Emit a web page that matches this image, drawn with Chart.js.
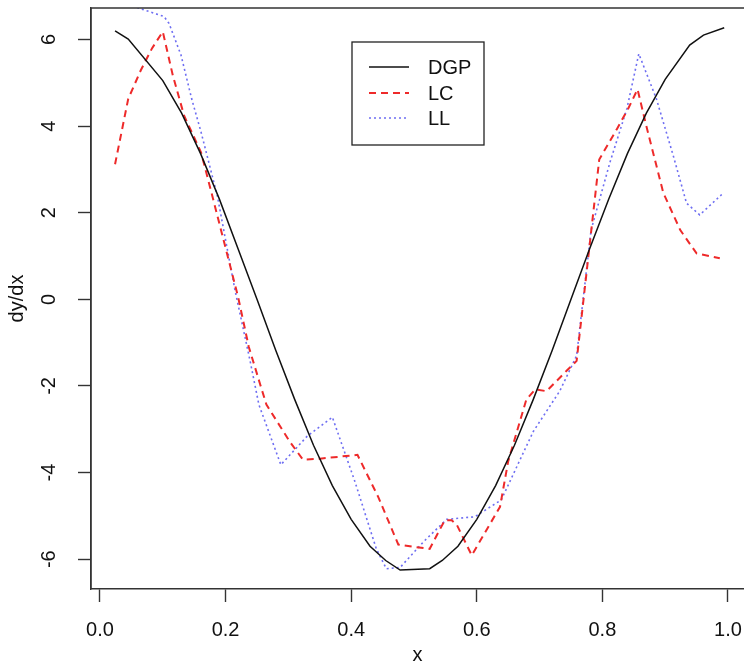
<!DOCTYPE html>
<html>
<head>
<meta charset="utf-8">
<script src="https://cdn.jsdelivr.net/npm/chart.js@4.4.1/dist/chart.umd.min.js"></script>
<style>
html,body{margin:0;padding:0;background:#fff;overflow:hidden;}
canvas{display:block;}
</style>
</head>
<body>
<canvas id="c" width="744" height="666"></canvas>
<script>
// ---- data ----
const seriesNames = ["DGP", "LC", "LL"];

const dgpX = [0.024,0.045,0.100,0.13,0.16,0.19,0.22,0.25,0.28,0.31,0.34,0.37,0.40,0.43,0.455,0.478,0.525,0.545,0.57,0.60,0.63,0.66,0.69,0.72,0.75,0.78,0.81,0.84,0.87,0.90,0.939,0.961,0.994];
const dgpY = [6.20,6.01,5.05,4.30,3.37,2.32,1.16,0.00,-1.18,-2.31,-3.37,-4.30,-5.08,-5.70,-6.03,-6.25,-6.22,-6.03,-5.70,-5.08,-4.30,-3.37,-2.31,-1.18,0.00,1.18,2.31,3.37,4.30,5.08,5.87,6.10,6.27];

const lcX = [0.024,0.045,0.065,0.083,0.100,0.116,0.134,0.161,0.179,0.220,0.237,0.255,0.265,0.302,0.323,0.350,0.410,0.443,0.475,0.503,0.525,0.549,0.560,0.568,0.592,0.637,0.650,0.679,0.693,0.711,0.743,0.759,0.795,0.823,0.841,0.856,0.870,0.897,0.924,0.950,0.987];
const lcY = [3.12,4.63,5.29,5.80,6.18,5.17,4.24,3.39,2.38,0.05,-1.10,-1.96,-2.43,-3.28,-3.70,-3.68,-3.59,-4.56,-5.66,-5.72,-5.76,-5.10,-5.10,-5.20,-5.91,-4.79,-3.74,-2.31,-2.08,-2.12,-1.65,-1.42,3.23,3.93,4.40,4.85,4.00,2.46,1.60,1.06,0.95];

const llX = [0.024,0.044,0.102,0.110,0.129,0.146,0.161,0.187,0.215,0.239,0.253,0.288,0.330,0.370,0.406,0.440,0.456,0.478,0.515,0.552,0.597,0.639,0.690,0.732,0.759,0.782,0.812,0.839,0.858,0.886,0.913,0.934,0.955,0.990];
const llY = [7.00,6.81,6.53,6.37,5.64,4.63,3.86,2.38,0.21,-1.42,-2.43,-3.82,-3.16,-2.72,-4.21,-5.76,-6.22,-6.19,-5.60,-5.08,-5.02,-4.63,-3.05,-2.12,-1.30,1.60,3.16,4.40,5.67,4.63,3.31,2.22,1.95,2.42];

const xTicks = [0.0, 0.2, 0.4, 0.6, 0.8, 1.0];
const yTicks = [-6, -4, -2, 0, 2, 4, 6];
const xTitle = "x";
const yTitle = "dy/dx";

// ---- chart ----
const FONT = "'Liberation Sans', Arial, Helvetica, sans-serif";
const pts = (xs, ys) => xs.map((x, i) => ({x: x, y: ys[i]}));

const styles = [
  {color: '#111111', dash: [], width: 1.5},
  {color: '#ee2a2a', dash: [7, 5], width: 2},
  {color: '#6e6ef2', dash: [2, 3], width: 1.6}
];

const frame = {
  id: 'frame',
  beforeDraw(chart) {
    const ctx = chart.ctx;
    ctx.save();
    ctx.fillStyle = '#fff';
    ctx.fillRect(0, 0, chart.width, chart.height);
    ctx.restore();
  },
  afterDraw(chart) {
    const ctx = chart.ctx, a = chart.chartArea;
    ctx.save();
    ctx.strokeStyle = '#333';
    ctx.lineWidth = 1.4;
    ctx.beginPath();
    ctx.moveTo(a.left, a.bottom);
    ctx.lineTo(a.left, a.top);
    ctx.lineTo(chart.width, a.top);
    ctx.stroke();
    // legend box
    const bx = 352, by = 42, bw = 132, bh = 103;
    ctx.lineWidth = 1.3;
    ctx.strokeStyle = '#222';
    ctx.strokeRect(bx, by, bw, bh);
    const rows = [67, 93, 118];
    ctx.font = '20px ' + FONT;
    ctx.textBaseline = 'middle';
    ctx.textAlign = 'left';
    chart.data.datasets.forEach((ds, i) => {
      ctx.strokeStyle = ds.borderColor;
      ctx.lineWidth = ds.borderWidth;
      ctx.setLineDash(ds.borderDash || []);
      ctx.beginPath();
      ctx.moveTo(369, rows[i]);
      ctx.lineTo(409, rows[i]);
      ctx.stroke();
      ctx.setLineDash([]);
      ctx.fillStyle = '#111';
      ctx.fillText(ds.label, 428, rows[i] + 1);
    });
    ctx.restore();
  }
};

new Chart(document.getElementById('c'), {
  type: 'line',
  data: {
    datasets: [
      {label: seriesNames[0], data: pts(dgpX, dgpY)},
      {label: seriesNames[1], data: pts(lcX, lcY)},
      {label: seriesNames[2], data: pts(llX, llY)}
    ].map((d, i) => Object.assign(d, {
      borderColor: styles[i].color,
      borderDash: styles[i].dash,
      borderWidth: styles[i].width,
      pointRadius: 0,
      tension: 0,
      fill: false
    }))
  },
  options: {
    responsive: false,
    devicePixelRatio: 1,
    animation: false,
    layout: {padding: {top: 8, right: 0, left: 0, bottom: 0}, autoPadding: false},
    plugins: {legend: {display: false}, tooltip: {enabled: false}},
    scales: {
      x: {
        type: 'linear',
        min: -0.0143,
        max: 1.0255,
        afterBuildTicks(s) { s.ticks = xTicks.map(v => ({value: v})); },
        afterFit(s) { s.height = 77; s.paddingLeft = 0; s.paddingRight = 0; },
        grid: {drawOnChartArea: false, tickLength: 13, tickColor: '#333', tickWidth: 1.4},
        border: {color: '#333', width: 1.4},
        ticks: {
          font: {family: FONT, size: 20},
          color: '#111',
          padding: 16,
          maxRotation: 0,
          callback: v => v.toFixed(1)
        },
        title: {display: true, text: xTitle, font: {family: FONT, size: 20, lineHeight: 1.1}, color: '#111', padding: {top: 0, bottom: 0}}
      },
      y: {
        type: 'linear',
        min: -6.688,
        max: 6.727,
        afterBuildTicks(s) { s.ticks = yTicks.map(v => ({value: v})); },
        afterFit(s) { s.width = 91; s.paddingTop = 0; s.paddingBottom = 0; },
        grid: {drawOnChartArea: false, tickLength: 13, tickColor: '#333', tickWidth: 1.4},
        border: {color: '#333', width: 1.4},
        ticks: {
          font: {family: FONT, size: 20},
          color: '#111',
          padding: 20,
          minRotation: 90,
          maxRotation: 90,
          crossAlign: 'center',
          callback: v => String(v)
        },
        title: {display: true, text: yTitle, font: {family: FONT, size: 20, lineHeight: 1.2}, color: '#111', padding: {top: 5, bottom: 0}}
      }
    }
  },
  plugins: [frame]
});
</script>
</body>
</html>
